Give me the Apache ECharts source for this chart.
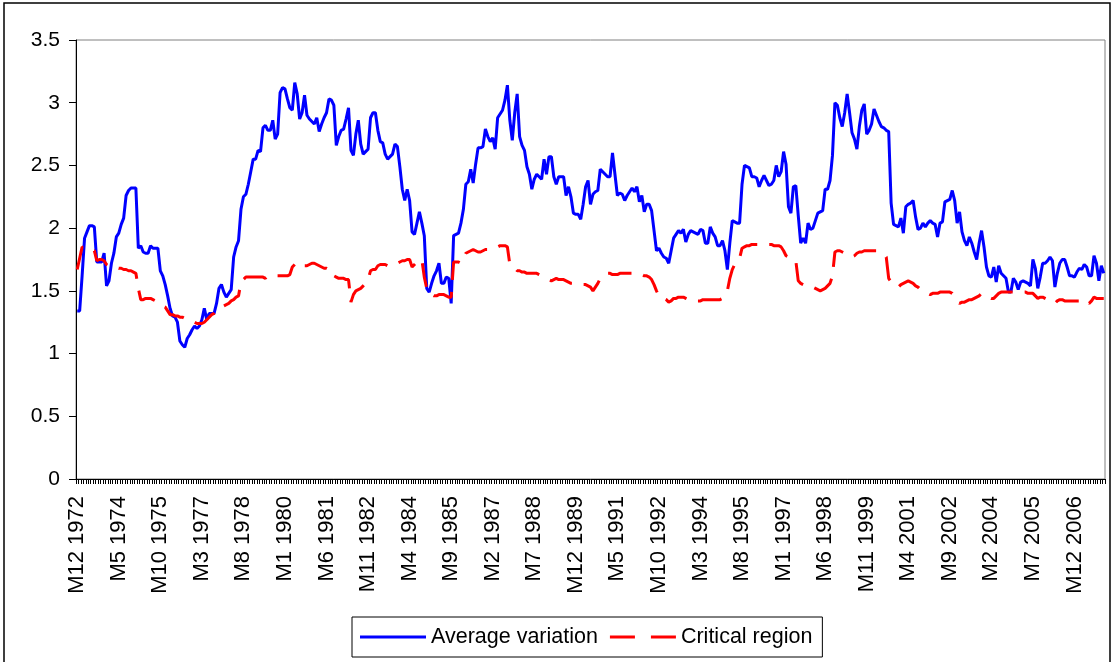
<!DOCTYPE html>
<html>
<head>
<meta charset="utf-8">
<script src="https://cdn.jsdelivr.net/npm/echarts@6/dist/echarts.min.js"></script>
<style>
html,body{margin:0;padding:0;background:#fff;}
#c{width:1114px;height:662px;}
</style>
</head>
<body>
<div id="c"></div>
<script>
// Monthly categories: M12 1972 ... M12 2007
const startYear = 1972, startMonth = 12, monthCount = 421;
const categories = [];
for (let k = 0; k < monthCount; k++) {
  const t = (startMonth - 1) + k;
  categories.push('M' + (t % 12 + 1) + ' ' + (startYear + Math.floor(t / 12)));
}

const yTicks = [0, 0.5, 1, 1.5, 2, 2.5, 3, 3.5];

const averageVariation = [
1.34,1.34,1.62,1.92,1.97,2.02,2.02,2.01,1.73,1.73,
1.73,1.80,1.54,1.58,1.72,1.80,1.93,1.96,2.03,2.08,
2.26,2.30,2.32,2.32,2.32,1.84,1.86,1.81,1.80,1.80,
1.86,1.84,1.84,1.84,1.66,1.62,1.55,1.46,1.36,1.30,
1.29,1.25,1.10,1.07,1.05,1.12,1.15,1.19,1.22,1.20,
1.22,1.27,1.36,1.27,1.32,1.32,1.32,1.40,1.52,1.55,
1.49,1.45,1.48,1.51,1.77,1.85,1.90,2.15,2.25,2.27,
2.35,2.45,2.55,2.55,2.62,2.61,2.80,2.82,2.78,2.78,
2.86,2.71,2.75,3.08,3.12,3.11,3.03,2.96,2.94,3.16,
3.07,2.87,2.92,3.06,2.90,2.87,2.85,2.83,2.88,2.77,
2.83,2.88,2.92,3.03,3.02,2.98,2.66,2.73,2.78,2.79,
2.87,2.96,2.62,2.58,2.75,2.86,2.67,2.59,2.61,2.63,
2.88,2.92,2.92,2.78,2.69,2.68,2.59,2.55,2.57,2.59,
2.67,2.65,2.49,2.31,2.22,2.31,2.22,1.97,1.95,2.04,
2.13,2.04,1.94,1.52,1.49,1.56,1.62,1.66,1.72,1.56,
1.56,1.61,1.60,1.40,1.94,1.95,1.96,2.04,2.15,2.35,
2.37,2.47,2.36,2.51,2.64,2.64,2.65,2.79,2.73,2.69,
2.72,2.63,2.88,2.91,2.94,3.02,3.14,2.86,2.70,2.92,
3.07,2.73,2.66,2.62,2.49,2.43,2.31,2.39,2.43,2.41,
2.39,2.55,2.43,2.57,2.57,2.41,2.35,2.41,2.41,2.41,
2.26,2.33,2.25,2.12,2.11,2.11,2.07,2.19,2.33,2.38,
2.19,2.27,2.29,2.30,2.47,2.45,2.43,2.41,2.41,2.60,
2.43,2.26,2.28,2.27,2.22,2.26,2.29,2.32,2.29,2.33,
2.21,2.26,2.13,2.19,2.19,2.14,1.98,1.82,1.84,1.80,
1.77,1.76,1.72,1.82,1.92,1.95,1.98,1.96,1.99,1.89,
1.95,1.98,1.97,1.96,1.95,1.99,1.98,1.88,1.88,2.01,
1.96,1.93,1.86,1.86,1.90,1.82,1.67,1.88,2.06,2.05,
2.04,2.04,2.35,2.50,2.49,2.48,2.41,2.41,2.40,2.33,
2.38,2.42,2.38,2.34,2.35,2.38,2.50,2.41,2.45,2.61,
2.51,2.17,2.12,2.33,2.34,2.10,1.88,1.92,1.88,2.04,
1.99,2.00,2.06,2.12,2.13,2.14,2.31,2.31,2.38,2.58,
3.00,2.98,2.88,2.81,2.92,3.07,2.92,2.76,2.71,2.63,
2.81,2.94,2.99,2.75,2.78,2.83,2.95,2.90,2.85,2.81,
2.80,2.78,2.77,2.20,2.03,2.02,2.01,2.08,1.96,2.17,
2.19,2.20,2.22,2.09,1.99,2.00,2.04,2.01,2.04,2.06,
2.04,2.03,1.93,2.04,2.05,2.21,2.22,2.23,2.30,2.22,
2.04,2.13,1.97,1.90,1.86,1.93,1.88,1.81,1.75,1.88,
1.98,1.85,1.69,1.62,1.61,1.69,1.57,1.70,1.64,1.62,
1.60,1.49,1.49,1.60,1.57,1.51,1.57,1.58,1.57,1.56,
1.54,1.75,1.68,1.52,1.61,1.72,1.72,1.74,1.77,1.74,
1.53,1.64,1.72,1.75,1.75,1.69,1.62,1.62,1.61,1.65,
1.68,1.67,1.71,1.69,1.62,1.62,1.78,1.72,1.58,1.70,
1.64
];

const criticalRegion = [
1.67,1.76,1.85,1.84,1.83,1.82,1.82,1.82,1.74,1.75,
1.75,1.74,1.71,1.70,1.70,1.69,1.69,1.68,1.68,1.67,
1.67,1.66,1.66,1.65,1.64,1.52,1.43,1.43,1.44,1.44,
1.44,1.43,1.42,1.40,1.39,1.38,1.37,1.34,1.31,1.31,
1.30,1.30,1.29,1.29,1.28,1.27,1.27,1.26,1.25,1.24,
1.24,1.24,1.25,1.27,1.29,1.31,1.32,1.34,1.36,1.37,
1.38,1.39,1.40,1.42,1.43,1.45,1.46,1.57,1.59,1.61,
1.61,1.61,1.61,1.61,1.61,1.61,1.61,1.60,1.62,1.62,
1.62,1.62,1.62,1.62,1.62,1.62,1.62,1.63,1.69,1.71,
1.72,1.73,1.71,1.70,1.70,1.71,1.72,1.72,1.71,1.70,
1.69,1.68,1.68,1.67,1.67,1.62,1.61,1.60,1.60,1.60,
1.59,1.59,1.41,1.47,1.50,1.51,1.52,1.54,1.56,1.59,
1.66,1.67,1.67,1.70,1.71,1.71,1.71,1.70,1.70,1.70,
1.71,1.72,1.73,1.74,1.74,1.75,1.75,1.69,1.71,1.73,
1.74,1.75,1.61,1.52,1.48,1.47,1.46,1.46,1.47,1.47,
1.47,1.46,1.45,1.45,1.73,1.73,1.73,1.72,1.76,1.80,
1.81,1.82,1.83,1.82,1.81,1.81,1.82,1.83,1.83,1.84,
1.84,1.85,1.85,1.86,1.86,1.86,1.85,1.71,1.70,1.68,
1.66,1.66,1.65,1.65,1.64,1.64,1.64,1.64,1.64,1.63,
1.62,1.61,1.60,1.59,1.58,1.59,1.60,1.59,1.59,1.59,
1.58,1.57,1.56,1.56,1.56,1.56,1.56,1.55,1.55,1.54,
1.53,1.50,1.53,1.56,1.60,1.62,1.63,1.64,1.64,1.63,
1.63,1.63,1.64,1.64,1.64,1.64,1.64,1.64,1.63,1.63,
1.63,1.63,1.62,1.62,1.61,1.59,1.55,1.50,1.46,1.44,
1.44,1.43,1.41,1.42,1.44,1.44,1.45,1.45,1.45,1.44,
1.43,1.43,1.42,1.42,1.42,1.42,1.43,1.43,1.43,1.43,
1.43,1.43,1.43,1.43,1.44,1.47,1.50,1.60,1.67,1.71,
1.74,1.76,1.84,1.85,1.86,1.86,1.87,1.87,1.87,1.87,
1.87,1.87,1.87,1.87,1.87,1.86,1.86,1.86,1.85,1.82,
1.78,1.77,1.76,1.75,1.74,1.58,1.56,1.55,1.54,1.54,
1.54,1.53,1.52,1.51,1.50,1.51,1.52,1.54,1.56,1.62,
1.81,1.82,1.82,1.81,1.80,1.79,1.78,1.77,1.78,1.80,
1.81,1.81,1.82,1.82,1.82,1.82,1.82,1.82,1.81,1.80,
1.79,1.77,1.60,1.57,1.55,1.54,1.53,1.55,1.56,1.57,
1.58,1.57,1.56,1.54,1.53,1.51,1.50,1.49,1.48,1.47,
1.48,1.48,1.48,1.49,1.49,1.49,1.49,1.49,1.48,1.45,
1.42,1.40,1.41,1.41,1.42,1.43,1.43,1.44,1.45,1.46,
1.48,1.47,1.46,1.45,1.44,1.44,1.46,1.48,1.49,1.49,
1.49,1.49,1.49,1.49,1.49,1.49,1.49,1.49,1.49,1.48,
1.48,1.48,1.46,1.44,1.45,1.45,1.44,1.43,1.42,1.41,
1.40,1.42,1.43,1.43,1.42,1.42,1.42,1.42,1.42,1.42,
1.42,1.43,1.43,1.42,1.40,1.42,1.45,1.44,1.44,1.44,
1.44
];

const FONT = '"Liberation Sans", Arial, sans-serif';
const chart = echarts.init(document.getElementById('c'), null, {renderer: 'canvas'});
chart.setOption({
  animation: false,
  backgroundColor: '#ffffff',
  textStyle: {fontFamily: FONT, color: '#000'},
  grid: {
    left: 76, right: 9, top: 40, bottom: 183,
    show: true, borderColor: '#808080', borderWidth: 1, backgroundColor: 'transparent'
  },
  legend: {
    left: 352, top: 617,
    padding: [9, 10, 9, 8],
    borderColor: '#000', borderWidth: 1,
    itemGap: 12, itemWidth: 66, itemHeight: 3,
    symbolKeepAspect: false,
    textStyle: {fontFamily: FONT, fontSize: 21.5, color: '#000'},
    data: [
      {name: 'Average variation', icon: 'rect'},
      {name: 'Critical region', icon: 'path://M0,0h25v3h-25z M41,0h25v3h-25z'}
    ]
  },
  xAxis: {
    type: 'category',
    data: categories,
    boundaryGap: true,
    axisLine: {lineStyle: {color: '#000', width: 1}},
    axisTick: {show: true, interval: 0, length: 5, lineStyle: {color: '#000', width: 1}},
    axisLabel: {
      interval: 16, rotate: 90, margin: 17,
      fontFamily: FONT, fontSize: 22, color: '#000'
    },
    splitLine: {show: false}
  },
  yAxis: {
    type: 'value',
    min: yTicks[0], max: yTicks[yTicks.length - 1], interval: 0.5,
    axisLine: {show: true, lineStyle: {color: '#000', width: 1}},
    axisTick: {show: true, length: 7, lineStyle: {color: '#000', width: 1}},
    axisLabel: {margin: 16, fontFamily: FONT, fontSize: 21, color: '#000'},
    splitLine: {show: false}
  },
  series: [
    {
      name: 'Average variation', type: 'line', data: averageVariation,
      symbol: 'none', smooth: false,
      lineStyle: {color: '#0000FF', width: 3},
      itemStyle: {color: '#0000FF'}, z: 2
    },
    {
      name: 'Critical region', type: 'line', data: criticalRegion,
      symbol: 'none', smooth: false,
      lineStyle: {color: '#FF0000', width: 3, type: [24, 12]},
      itemStyle: {color: '#FF0000'}, z: 3
    }
  ],
  graphic: [{
    type: 'rect', silent: true, z: 100,
    shape: {x: 4, y: 3, width: 1106, height: 700},
    style: {fill: 'none', stroke: '#000', lineWidth: 1.5}
  }]
});
</script>
</body>
</html>
